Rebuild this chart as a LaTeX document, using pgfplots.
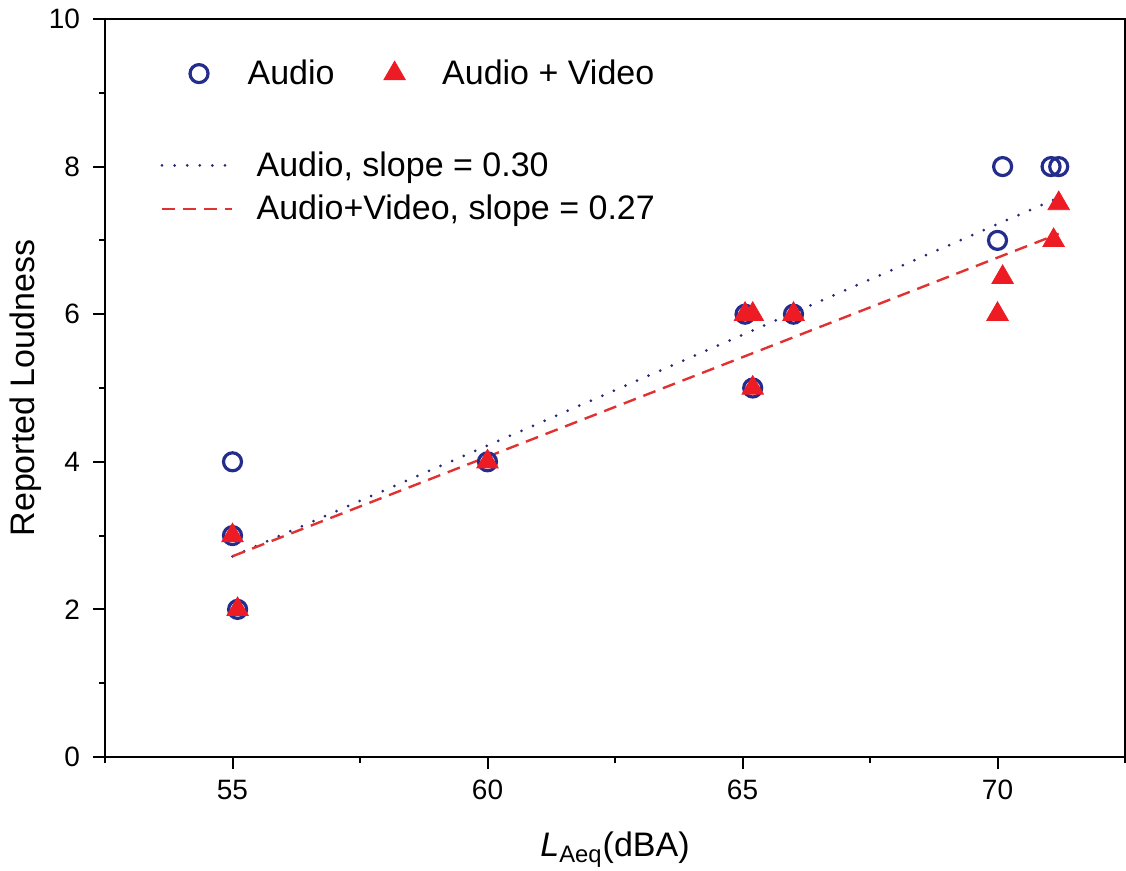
\documentclass[border=0pt]{standalone}
\usepackage{pgfplots}
\pgfplotsset{compat=1.18}
\usepackage{fontspec}
\setmainfont{Liberation Sans}
\definecolor{cblue}{RGB}{36,44,140}
\definecolor{cred}{RGB}{237,28,36}
\definecolor{cdot}{RGB}{40,40,120}
\definecolor{cdash}{RGB}{225,50,50}
\pgfplotsset{
  circimg/.style={legend image code/.code={\draw[##1] plot coordinates {(0pt,0pt)}; \path[draw=none,fill=none] (-5pt,0pt) -- (22.3pt,0pt);}},
  triimg/.style={legend image code/.code={\draw[##1] plot coordinates {(0pt,0pt)}; \path[draw=none,fill=none] (-6pt,0pt) -- (21.8pt,0pt);}},
  lineimg/.style={legend image code/.code={\draw[##1] (0pt,0pt) -- (35pt,0pt); \path[draw=none,fill=none] (0pt,0pt) -- (45.3pt,0pt);}},
}
\begin{document}
\begin{tikzpicture}
\pgfplotsset{base/.style={scale only axis, width=510pt, height=369pt,
  xmin=52.5, xmax=72.5, ymin=0, ymax=10}}
% fit lines
\begin{axis}[base, hide axis, lineimg,
  legend style={draw=none, fill=none, inner sep=0pt, at={(0.054,0.772)}, anchor=west,
    font=\fontsize{17}{19}\selectfont, row sep=4pt, cells={anchor=west}}]
\addplot[cdot, line width=1.5pt, line cap=round, dash pattern=on 0pt off 6.3pt] coordinates {(55,2.72) (71.2,7.58)};
\addlegendentry{Audio, slope = 0.30}
\addplot[cdash, line width=1.2pt, dash pattern=on 6.5pt off 4pt] coordinates {(55,2.72) (71.2,7.09)};
\addlegendentry{Audio+Video, slope = 0.27}
\end{axis}
\begin{axis}[base, name=ax,
  axis line style={line width=1pt},
  every tick/.style={black, line width=1pt},
  tick align=outside, xtick pos=lower, ytick pos=left,
  major tick length=6pt, minor tick length=3pt,
  xtick={55,60,65,70}, minor xtick={52.5,57.5,62.5,67.5,72.5},
  ytick={0,2,4,6,8,10}, minor ytick={1,3,5,7,9},
  /pgf/number format/assume math mode=true,
  every tick label/.append style={font=\fontsize{14}{16}\selectfont},
  yticklabel style={xshift=-3pt},
  xticklabel style={yshift=-2pt},
  label style={font=\fontsize{17}{19}\selectfont},
  xlabel={{\itshape L}\textsubscript{Aeq}(dBA)},
  ylabel={Reported Loudness},
  xlabel style={at={(axis description cs:0.5,-0.1355)}, anchor=base},
  ylabel style={at={(axis description cs:-0.0696,0.5)}, anchor=base, rotate=0},
  legend columns=2,
  legend style={draw=none, fill=none, inner sep=0pt, at={(0.082,0.926)}, anchor=west,
    font=\fontsize{17}{19}\selectfont, cells={anchor=west},
    /tikz/every even column/.append style={column sep=22pt}},
  ]
\addplot[only marks, mark=o, mark size=4.5pt, color=cblue, line width=1.6pt, circimg]
  coordinates {(55,4) (55,3) (55.1,2) (60,4) (65.05,6) (65.2,5) (66,6) (70,7) (70.1,8) (71.05,8) (71.2,8)};
\addlegendentry{Audio}
\addplot[only marks, mark=triangle*, mark size=6.2pt, color=cred, draw=none, fill=cred, triimg]
  coordinates {(55,3) (55.1,2) (60,4) (65.05,6) (65.2,6) (65.2,5) (66,6) (70,6) (70.1,6.5) (71.1,7) (71.2,7.5)};
\addlegendentry{Audio + Video}
\end{axis}
\pgfresetboundingbox
\path (ax.south west) ++(-52.5pt,-56.5pt) coordinate (bl);
\path (ax.north east) ++(0.5pt,9.5pt) coordinate (tr);
\useasboundingbox (bl) rectangle (tr);
\end{tikzpicture}
\end{document}
